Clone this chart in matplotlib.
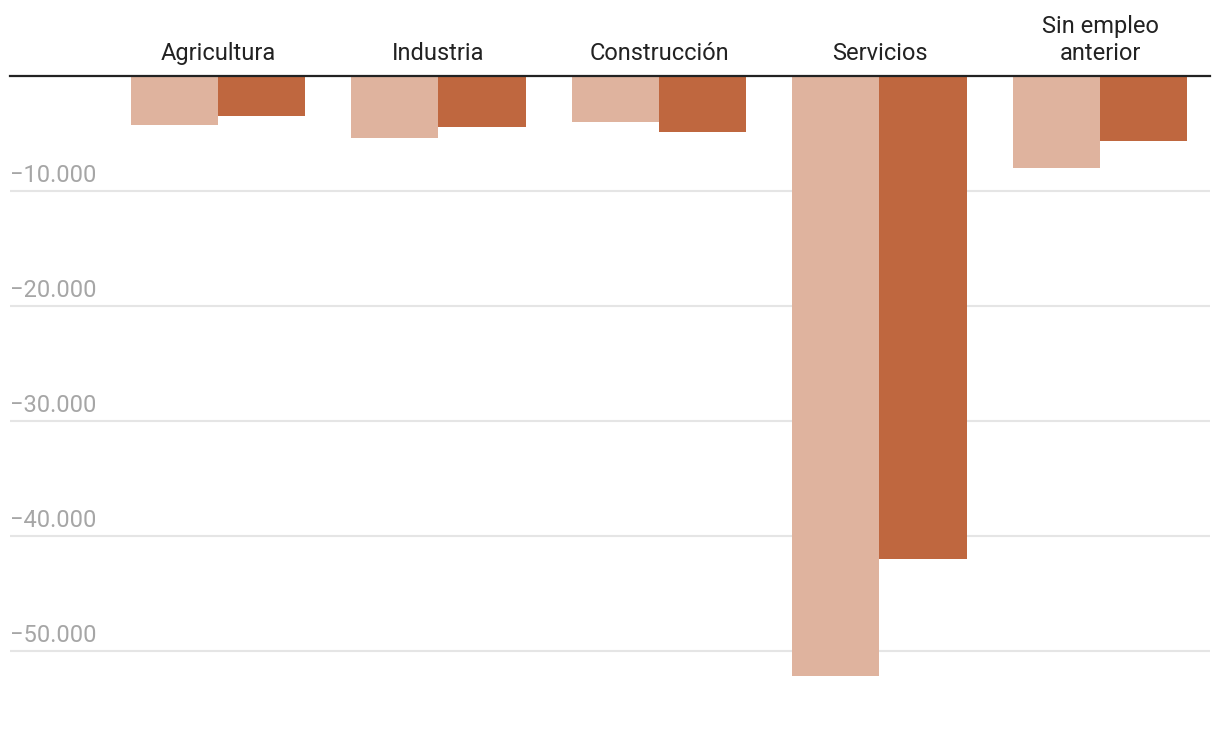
import matplotlib
matplotlib.use("Agg")
import matplotlib.pyplot as plt
from matplotlib.transforms import offset_copy, blended_transform_factory

plt.rcParams['font.family'] = ['Roboto', 'DejaVu Sans']

categories = ['Agricultura', 'Industria', 'Construcción', 'Servicios', 'Sin empleo\nanterior']
serie_a = [-4260, -5390, -4000, -52170, -8000]
serie_b = [-3480, -4430, -4870, -42000, -5650]
yticks = [-10000, -20000, -30000, -40000, -50000]

color_a = '#dfb39e'
color_b = '#bf673f'

fig = plt.figure(figsize=(12.2, 7.3), dpi=100)
ax = fig.add_axes([10 / 1220, 1 - 720 / 730, 1200 / 1220, 644 / 730])

w = 0.395
x = list(range(len(categories)))
ax.bar([i - w / 2 for i in x], serie_a, width=w, color=color_a, zorder=2)
ax.bar([i + w / 2 for i in x], serie_b, width=w, color=color_b, zorder=2)

ax.set_xlim(-0.943, 4.499)
ax.set_ylim(-56000, 0)

for v in yticks:
    ax.axhline(v, color='#e5e5e5', lw=1.5, zorder=1)
ax.axhline(0, color='#222222', lw=1.6, zorder=3, clip_on=False)

# etiquetas del eje y, encima de cada linea
trans = blended_transform_factory(ax.transAxes, ax.transData)
trans_lbl = offset_copy(trans, fig=fig, x=0, y=9, units='dots')
for v in yticks:
    lbl = '−' + f'{abs(v):,}'.replace(',', '.')
    ax.text(0, v, lbl, transform=trans_lbl, ha='left', va='baseline',
            fontsize=17, color='#a6a6a6')

# categorias arriba
trans_cat = offset_copy(ax.transData, fig=fig, x=0, y=16, units='dots')
for i, c in enumerate(categories):
    ax.text(i, 0, c, transform=trans_cat, ha='center', va='baseline',
            fontsize=17, color='#222222', linespacing=1.2, clip_on=False)

for s in ax.spines.values():
    s.set_visible(False)
ax.set_xticks([])
ax.set_yticks([])

fig.savefig('out.png', dpi=100)
